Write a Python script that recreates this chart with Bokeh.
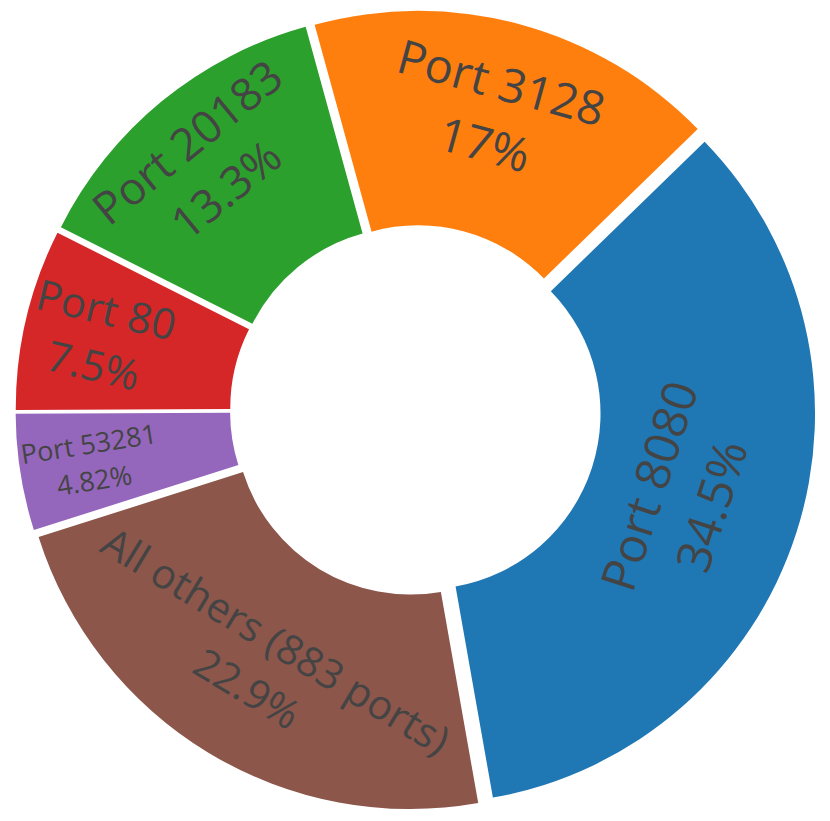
import numpy as np
from bokeh.plotting import figure
from bokeh.models import Range1d, ColumnDataSource
from bokeh.core.properties import value
from bokeh.embed import file_html
from bokeh.resources import INLINE

# ---- data ----
labels = ["Port 8080", "All others (883 ports)", "Port 53281", "Port 80", "Port 20183", "Port 3128"]
values = [34.5, 22.9, 4.82, 7.5, 13.3, 17.0]
colors = ["#1f77b4", "#8c564b", "#9467bd", "#d62728", "#2ca02c", "#ff7f0e"]

# ---- styling / layout ----
orient = ["tan", "tan", "rad", "rad", "tan", "tan"]
font_px = [48, 41, 27, 42, 45, 47]
text_r = [267, 286, 318, 314, 313, 298]
text_dth = [0.0, 0.0, 0.0, 0.0, -1.2, -0.6]   # degrees
LINE_GAP = 0.68       # half line spacing, in em
START = 45.8          # degrees clockwise from 12 o'clock
CX, CY = 415.0, -410.0
R_OUT, HOLE = 390.0, 0.45
PULL = 10.0
W, H = 830, 821

vals = np.array(values, dtype=float)
frac = vals / vals.sum()
cum = np.concatenate([[0.0], np.cumsum(frac)]) * 360.0
th1 = START + cum[:-1]
th2 = START + cum[1:]
thm = np.radians((th1 + th2) / 2.0)

wx = CX + PULL * np.sin(thm)
wy = CY + PULL * np.cos(thm)

wedges = ColumnDataSource(dict(
    x=wx, y=wy,
    start=np.radians(90.0 - th2), end=np.radians(90.0 - th1),
    color=colors,
))

p = figure(width=W, height=H, output_backend="svg", toolbar_location=None,
           x_range=Range1d(0, W), y_range=Range1d(-H, 0),
           x_axis_type=None, y_axis_type=None, min_border=0)
p.grid.visible = False
p.outline_line_color = None
p.background_fill_color = "white"
p.border_fill_color = "white"

p.annular_wedge(x="x", y="y", inner_radius=R_OUT * HOLE, outer_radius=R_OUT,
                start_angle="start", end_angle="end", fill_color="color",
                line_color=None, source=wedges)


def norm(a):
    a = (a + 180.0) % 360.0 - 180.0
    if a > 90.0:
        a -= 180.0
    if a <= -90.0:
        a += 180.0
    return a

xs, ys, txt, ang, fsz = [], [], [], [], []
for i, lab in enumerate(labels):
    tdeg = np.degrees(thm[i])
    a = norm(-tdeg) if orient[i] == "tan" else norm(90.0 - tdeg)
    ar = np.radians(a)
    tpos = thm[i] + np.radians(text_dth[i])
    tx = wx[i] + text_r[i] * np.sin(tpos)
    ty = wy[i] + text_r[i] * np.cos(tpos)
    h = LINE_GAP * font_px[i]
    pct = f"{values[i]:.3g}%"
    for s, t in ((-1, lab), (1, pct)):
        xs.append(tx + s * h * np.sin(ar))
        ys.append(ty - s * h * np.cos(ar))
        txt.append(t)
        ang.append(ar)
        fsz.append(f"{font_px[i]}px")

texts = ColumnDataSource(dict(x=xs, y=ys, text=txt, angle=ang, size=fsz))
p.text(x="x", y="y", text="text", angle="angle", source=texts,
       text_font=value("Open Sans"), text_font_size="size",
       text_color="#444444", text_align="center", text_baseline="middle")

open("out.html", "w").write(file_html(p, INLINE))
